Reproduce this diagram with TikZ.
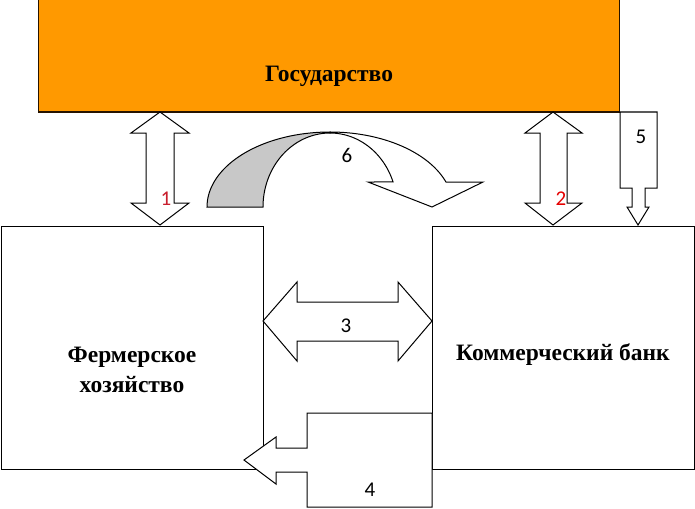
\documentclass[tikz,border=0pt]{standalone}
\usepackage{fontspec}
\setmainfont{Liberation Serif}
\newfontfamily\numfont{Carlito}
\definecolor{gosorange}{RGB}{255,153,0}
\definecolor{bandgray}{RGB}{200,200,200}
\definecolor{lblred}{RGB}{200,30,45}
\begin{document}
\begin{tikzpicture}[x=1pt,y=-1pt,
  blk/.style={draw=black,line width=1pt,fill=white,line join=miter},
  lbl/.style={font=\numfont\fontsize{21}{21}\selectfont,inner sep=0pt},
  ttl/.style={font=\bfseries\fontsize{23.5}{30}\selectfont,align=center,inner sep=0pt}]
\useasboundingbox (0,0) rectangle (695,508);
\fill[white] (0,0) rectangle (695,508);
% boxes
\draw[line width=1pt,draw=black!85!orange,fill=gosorange] (38,0) rectangle (619,112);
\node[ttl] (gos) at (329,76) {Государство};
\draw[blk] (1,226) rectangle (263,469);
\node[ttl] (farm) at (132,370) {Фермерское\\хозяйство};
\draw[blk] (432,226) rectangle (694,469);
\node[ttl] (bank) at (563,355) {Коммерческий банк};
% arrow 1
\draw[blk] (160,112) -- (131,133) -- (146,133) -- (146,203) -- (131,203) -- (160,225)
  -- (189,203) -- (174,203) -- (174,133) -- (189,133) -- cycle;
\node[lbl,text=lblred] (n1) at (166,199) {1};
% arrow 2
\draw[blk] (553,112) -- (525,133) -- (540,133) -- (540,203) -- (525,203) -- (553,225)
  -- (582,203) -- (567,203) -- (567,133) -- (582,133) -- cycle;
\node[lbl,text=red!90!black] (n2) at (561,199) {2};
% arrow 5
\draw[blk] (620,112) -- (657,112) -- (657,188) -- (645,188) -- (645,207) -- (649,207)
  -- (638,225) -- (627,207) -- (632,207) -- (632,188) -- (620,188) -- cycle;
\node[lbl] (n5) at (641,137) {5};
% arrow 3
\draw[blk] (263,321) -- (297,282) -- (297,302) -- (398,302) -- (398,282) -- (432,321)
  -- (398,361) -- (398,341) -- (297,341) -- (297,361) -- cycle;
\node[lbl] (n3) at (346,326) {3};
% arrow 4
\draw[blk] (432,413) -- (307,413) -- (307,448) -- (276,448) -- (276,437) -- (244,460)
  -- (276,484) -- (276,472) -- (307,472) -- (307,507) -- (432,507) -- cycle;
\node[lbl] (n4) at (370,490) {4};
% arrow 6 (curved)
\draw[blk,fill=bandgray] plot[domain=180:90,samples=40,variable=\t] ({330+123*cos(\t)},{207-75*sin(\t)})
  -- plot[domain=90:180,samples=40,variable=\t] ({330+67*cos(\t)},{207-74*sin(\t)}) -- cycle;
\draw[blk] plot[domain=90:19.47,samples=40,variable=\t] ({330+123*cos(\t)},{207-75*sin(\t)})
  -- (483,182) -- (432,207) -- (368,182)
  -- plot[domain=19.75:90,samples=40,variable=\t] ({330+67*cos(\t)},{207-74*sin(\t)}) -- cycle;
\node[lbl] (n6) at (347,155) {6};
\end{tikzpicture}
\end{document}
